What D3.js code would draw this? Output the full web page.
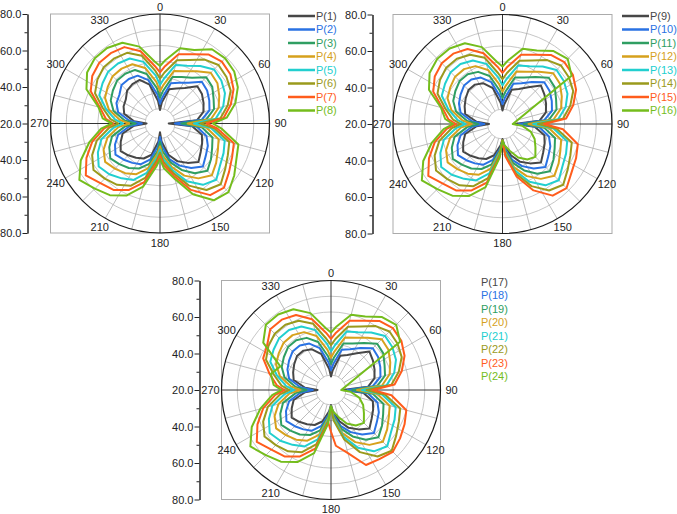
<!DOCTYPE html>
<html>
<head>
<meta charset="utf-8">
<script src="https://cdn.jsdelivr.net/npm/d3@7"></script>
<style>
  body { margin: 0; background: #fff; }
  svg { display: block; font-family: Arial, "Liberation Sans", sans-serif; }
</style>
</head>
<body>
<svg id="chart" width="677" height="514"></svg>
<script>
// angle of every sample (deg, clockwise from top)
const angles = [0,5,15,25,35,45,55,65,75,85,90,95,105,115,125,135,145,155,165,175,
                180,185,195,205,215,225,235,245,255,265,270,275,285,295,305,315,325,335,345,355];

const angleTicks = [0,30,60,90,120,150,180,210,240,270,300,330];
const radialUpTicks = [20,40,60,80];
const radialDownTicks = [40,60,80];
const radialMinor = [30,50,70];
const gridRings = [20,30,40,50,60,70];

const namesA = ['P(1)','P(2)','P(3)','P(4)','P(5)','P(6)','P(7)','P(8)'];
const namesB = ['P(9)','P(10)','P(11)','P(12)','P(13)','P(14)','P(15)','P(16)'];
const namesC = ['P(17)','P(18)','P(19)','P(20)','P(21)','P(22)','P(23)','P(24)'];

const colors = ['#474747','#2a72e3','#2f9e62','#d6a11c','#22cfcf','#9a9a1c','#ff5c1c','#74bd1c'];

const valuesA = [
  [19,24,33,35,38,44,43,41,39,34,16,31,38,40,42,45,41,37,31,22,16,22,31,35,37,39,41,38,35,27,19,27,34,36,37,40,41,41,36,25],
  [23,27,37,39,42,48,47,45,43,37,20,34,41,44,46,49,45,40,34,25,19,25,34,39,41,43,45,42,38,30,22,30,38,41,42,45,45,44,39,29],
  [27,31,41,43,46,52,51,48,46,40,24,37,45,47,50,53,49,43,36,28,22,28,37,42,45,47,49,46,42,33,26,33,41,45,47,49,49,48,43,33],
  [31,35,45,47,51,56,55,52,49,43,28,40,49,51,54,57,53,47,39,31,25,30,40,46,49,51,53,50,45,37,30,36,44,49,51,53,53,52,47,37],
  [35,39,49,51,55,59,58,56,52,46,32,43,53,55,57,61,58,51,41,33,27,32,43,50,53,56,58,54,49,40,34,39,46,53,55,57,57,56,51,41],
  [39,43,52,55,60,63,62,60,55,49,36,45,56,58,61,65,62,54,43,35,29,34,46,54,58,60,62,58,52,43,37,42,48,56,59,61,61,60,55,44],
  [43,47,56,59,64,66,65,62,57,51,40,47,59,61,64,68,66,57,45,37,31,36,49,57,62,64,68,62,55,46,40,45,50,59,63,65,65,64,58,47],
  [47,51,60,62,68,69,68,65,60,53,44,50,62,64,68,72,70,60,47,39,33,38,52,61,66,69,73,66,57,48,41,47,51,62,67,69,69,67,61,50]
];

const valuesB = [
  [19,23,33,35,39,45,43,41,39,34,18,31,38,40,42,45,41,37,31,24,20,24,31,35,37,39,41,38,35,27,19,27,35,37,39,41,41,39,34,24],
  [23,27,37,39,43,48,47,45,43,37,21,34,41,44,46,49,45,40,34,26,21,26,34,39,41,43,45,42,38,30,22,30,38,41,43,45,45,43,38,28],
  [27,31,41,43,47,52,51,48,46,40,24,37,45,47,50,53,49,43,36,27,21,27,37,42,45,47,49,46,42,33,26,33,41,45,47,49,49,47,42,32],
  [31,35,45,47,51,56,55,52,49,43,27,40,49,51,54,57,53,47,39,28,21,28,40,46,49,51,53,50,45,37,30,36,44,49,51,53,53,51,46,36],
  [35,39,49,51,55,59,58,56,52,46,30,43,53,55,57,61,58,51,41,29,21,29,43,50,53,56,58,54,49,40,34,39,46,53,55,57,57,55,50,40],
  [39,43,52,55,60,63,62,60,55,49,33,45,56,58,61,65,62,54,43,30,21,30,46,54,58,60,62,58,52,43,37,42,48,56,59,61,61,59,54,43],
  [43,47,56,59,64,66,65,62,57,51,37,49,60,62,64,68,66,57,45,31,21,31,49,57,62,64,68,62,55,46,40,45,50,59,63,65,65,63,57,47],
  [47,51,60,62,67,69,64,null,null,null,17,23,29,33,36,40,38,34,28,24,21,32,52,61,66,69,73,66,57,48,42,47,51,62,67,69,69,67,61,50]
];

const valuesC = [
  [19,23,33,35,39,45,43,41,39,34,18,31,38,40,42,45,41,37,31,24,20,24,31,35,37,39,41,38,35,27,19,27,35,37,39,41,41,39,34,24],
  [23,27,37,39,43,48,47,45,43,37,21,34,41,44,46,49,45,40,34,26,21,26,34,39,41,43,45,42,38,30,22,30,38,41,43,45,45,43,38,28],
  [27,31,41,43,47,52,51,48,46,40,24,37,45,47,50,53,49,43,36,27,21,27,37,42,45,47,49,46,42,33,26,33,41,45,47,49,49,47,42,32],
  [31,35,45,47,51,56,55,52,49,43,27,40,49,51,54,57,53,47,39,28,21,28,40,46,49,51,53,50,45,37,30,36,44,49,51,53,53,51,46,36],
  [35,39,49,51,55,59,58,56,52,46,30,43,53,55,57,61,58,51,41,29,21,29,43,50,53,56,58,54,49,40,34,39,46,53,55,57,57,55,50,40],
  [39,43,52,55,60,63,62,60,55,49,33,45,56,58,61,65,62,54,43,30,21,30,46,54,58,60,62,58,52,43,37,42,48,56,59,61,61,59,54,43],
  [43,47,56,59,64,66,65,62,57,51,37,49,60,62,64,66,64,63,52,46,37,31,49,57,62,64,68,62,55,46,40,45,51,58,60,65,65,63,57,47],
  [47,51,60,62,67,69,64,null,null,null,17,23,29,33,36,40,38,34,28,24,21,32,52,61,66,69,73,66,57,48,42,47,50,46,63,69,69,67,61,50]
];

const svg = d3.select('#chart');
const R = 109.5;
const HOLE = 15;

// one polar panel: frame, grid, side axis, curves and legend
function drawPolar(cfg) {
  const g = svg.append('g');
  const cx = cfg.cx, cy = cfg.cy;
  const rScale = d3.scaleLinear().domain([20, 80]).range([HOLE, R]);
  const rad = a => a * Math.PI / 180;

  g.append('rect')
    .attr('x', cx - R).attr('y', cy - R)
    .attr('width', 2 * R).attr('height', 2 * R)
    .style('fill', 'none').style('stroke', '#ababab').style('stroke-width', 1);

  const grid = g.append('g').attr('transform', `translate(${cx},${cy})`);
  grid.selectAll('circle.ring')
    .data(gridRings)
    .enter().append('circle')
    .attr('class', 'ring')
    .attr('r', d => rScale(d))
    .style('fill', 'none').style('stroke', '#b8b8b8').style('stroke-width', 0.8);

  grid.selectAll('line.spoke')
    .data(d3.range(0, 360, 15))
    .enter().append('line')
    .attr('class', 'spoke')
    .attr('x1', d => HOLE * Math.sin(rad(d)))
    .attr('y1', d => -HOLE * Math.cos(rad(d)))
    .attr('x2', d => R * Math.sin(rad(d)))
    .attr('y2', d => -R * Math.cos(rad(d)))
    .style('stroke', d => d % 90 === 0 ? '#333' : '#ababab')
    .style('stroke-width', d => d % 90 === 0 ? 1 : 0.8);

  grid.append('circle')
    .attr('r', R)
    .style('fill', 'none').style('stroke', '#1a1a1a').style('stroke-width', 1.2);

  // angle labels; the top one is pulled in a little so it stays on the page
  grid.selectAll('text.ang')
    .data(angleTicks)
    .enter().append('text')
    .attr('class', 'ang')
    .attr('x', d => (R + 11) * Math.sin(rad(d)))
    .attr('y', d => -(d === 0 ? R + 7 : R + 10) * Math.cos(rad(d)))
    .attr('text-anchor', 'middle')
    .attr('dy', '0.36em')
    .style('font-size', '11px').style('fill', '#222')
    .text(d => d);

  // side radial axis: 20 in the middle, 80 at both ends
  const fmt = d3.format('.1f');
  const up = d3.scaleLinear().domain([20, 80]).range([cy, cy - R]);
  const down = d3.scaleLinear().domain([20, 80]).range([cy, cy + R]);
  const ax = g.append('g').attr('transform', `translate(${cfg.axisX},0)`);
  ax.append('g').call(d3.axisLeft(up).tickValues(radialUpTicks).tickFormat(fmt).tickSize(5).tickSizeOuter(0));
  ax.append('g').call(d3.axisLeft(down).tickValues(radialDownTicks).tickFormat(fmt).tickSize(5).tickSizeOuter(0));
  ax.append('g').call(d3.axisLeft(up).tickValues(radialMinor).tickFormat('').tickSize(3).tickSizeOuter(0));
  ax.append('g').call(d3.axisLeft(down).tickValues(radialMinor).tickFormat('').tickSize(3).tickSizeOuter(0));
  ax.selectAll('path.domain').style('stroke', '#222');
  ax.selectAll('.tick line').style('stroke', '#222');
  ax.selectAll('.tick text')
    .style('font-size', '11px').style('fill', '#222')
    .style('font-family', 'Arial, "Liberation Sans", sans-serif')
    .attr('x', -6);

  const line = d3.lineRadial()
    .angle(d => rad(d.a))
    .radius(d => rScale(d.v))
    .curve(d3.curveLinearClosed);

  const series = cfg.values.map((vals, i) => ({
    name: cfg.names[i],
    color: colors[i],
    pts: angles.map((a, j) => ({ a: a, v: vals[j] })).filter(p => p.v != null)
  }));

  grid.selectAll('path.series')
    .data(series)
    .enter().append('path')
    .attr('class', 'series')
    .attr('d', s => line(s.pts))
    .style('fill', 'none')
    .style('stroke', s => s.color)
    .style('stroke-width', 2)
    .style('stroke-linejoin', 'round');

  const leg = g.append('g').selectAll('g')
    .data(series)
    .enter().append('g')
    .attr('transform', (s, i) => `translate(${cfg.legX},${cfg.legY + i * 13.5})`);
  if (cfg.legLine) {
    leg.append('line')
      .attr('x1', 0).attr('x2', 27)
      .style('stroke', s => s.color).style('stroke-width', 2.5);
  }
  leg.append('text')
    .attr('x', cfg.legLine ? 28 : 0)
    .attr('dy', '0.36em')
    .style('font-size', '11px')
    .style('fill', s => s.color)
    .text(s => s.name);
}

drawPolar({ cx: 160, cy: 123.5, axisX: 27.5, values: valuesA, names: namesA, legX: 288, legY: 16, legLine: true });
drawPolar({ cx: 502.5, cy: 124, axisX: 372.5, values: valuesB, names: namesB, legX: 622, legY: 16, legLine: true });
drawPolar({ cx: 331, cy: 390, axisX: 199.5, values: valuesC, names: namesC, legX: 481, legY: 282, legLine: false });
</script>
</body>
</html>
